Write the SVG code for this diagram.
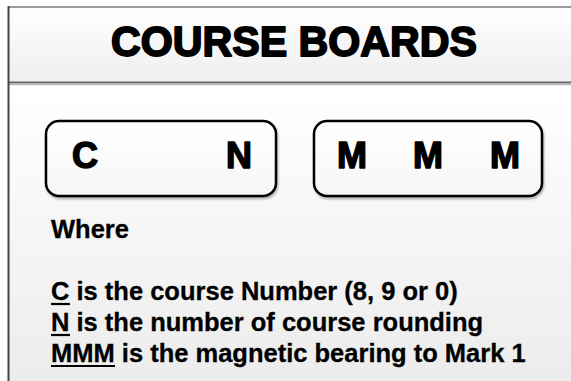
<svg xmlns="http://www.w3.org/2000/svg" width="571" height="381" viewBox="0 0 571 381">
<defs>
<linearGradient id="hdr" x1="0" y1="0" x2="0" y2="1"><stop offset="0" stop-color="#ffffff"/><stop offset="1" stop-color="#eeeeee"/></linearGradient>
<linearGradient id="body" x1="0" y1="0" x2="0" y2="1"><stop offset="0" stop-color="#ffffff"/><stop offset="1" stop-color="#ececec"/></linearGradient>
<linearGradient id="box" x1="0" y1="0" x2="0" y2="1"><stop offset="0" stop-color="#ffffff"/><stop offset="1" stop-color="#f6f6f6"/></linearGradient>
<filter id="sh" x="-10%" y="-10%" width="120%" height="130%"><feDropShadow dx="1" dy="2" stdDeviation="1.2" flood-color="#000" flood-opacity="0.3"/></filter>
</defs>
<style>
.heavy{font-family:"Liberation Sans",Arial,sans-serif;font-weight:bold;fill:#000;stroke:#000;stroke-linejoin:round}
.txt{font-family:"Liberation Sans",Arial,sans-serif;font-weight:bold;font-size:25.5px;fill:#000;stroke:#000;stroke-width:0.3}
.board{fill:url(#box);stroke:#000;stroke-width:2.5}
.ul{stroke:#000;stroke-width:2.2}
</style>
<rect x="0" y="0" width="571" height="381" fill="#ffffff"/>
<g id="header">
<rect x="8" y="7" width="563" height="75" fill="url(#hdr)"/>
<line x1="8" y1="7" x2="571" y2="7" stroke="#999" stroke-width="2"/>
<line x1="8" y1="82.5" x2="571" y2="82.5" stroke="#666" stroke-width="2"/>
<line x1="8" y1="84.5" x2="571" y2="84.5" stroke="#bbb" stroke-width="1.5"/>
<text class="heavy" x="294" y="56" font-size="42" stroke-width="1.8" text-anchor="middle" textLength="366" lengthAdjust="spacingAndGlyphs">COURSE BOARDS</text>
</g>
<g id="body">
<rect x="8" y="86" width="563" height="295" fill="url(#body)"/>
</g>
<line x1="8.5" y1="6" x2="8.5" y2="381" stroke="#444" stroke-width="2"/>
<g id="board-cn">
<rect class="board" x="46" y="121" width="230" height="75" rx="13" filter="url(#sh)"/>
<text class="heavy" x="72" y="168" font-size="36" stroke-width="1.5">C</text>
<text class="heavy" x="252" y="168" font-size="36" stroke-width="1.5" text-anchor="end">N</text>
</g>
<g id="board-mmm">
<rect class="board" x="314" y="121" width="228" height="75" rx="13" filter="url(#sh)"/>
<text class="heavy" x="352" y="168" font-size="36" stroke-width="1.5" text-anchor="middle">M</text>
<text class="heavy" x="428" y="168" font-size="36" stroke-width="1.5" text-anchor="middle">M</text>
<text class="heavy" x="505" y="168" font-size="36" stroke-width="1.5" text-anchor="middle">M</text>
</g>
<g id="legend">
<text class="txt" x="51" y="238">Where</text>
<text class="txt" x="51" y="300">C is the course Number (8, 9 or 0)</text>
<line class="ul" x1="51" y1="304" x2="70" y2="304"/>
<text class="txt" x="51" y="331">N is the number of course rounding</text>
<line class="ul" x1="51" y1="335" x2="70" y2="335"/>
<text class="txt" x="51" y="362">MMM is the magnetic bearing to Mark 1</text>
<line class="ul" x1="51" y1="366" x2="115" y2="366"/>
</g>
</svg>
